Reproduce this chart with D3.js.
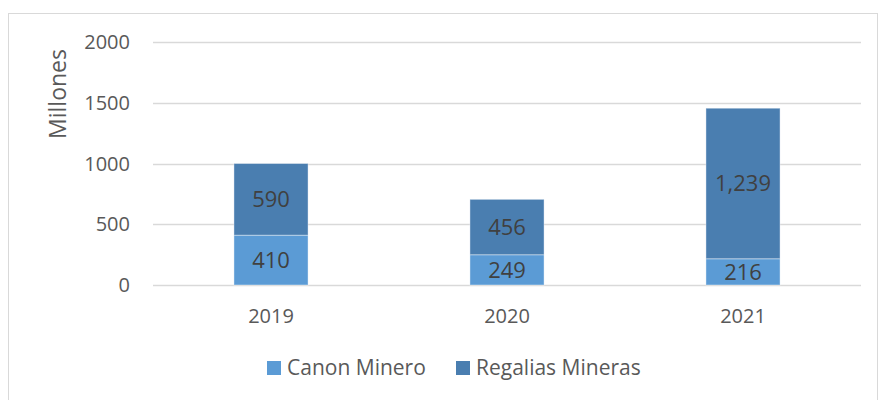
<!DOCTYPE html>
<html>
<head>
<meta charset="utf-8">
<script src="https://cdn.jsdelivr.net/npm/d3@7"></script>
<style>
  body { margin: 0; background: #fff; }
  text { font-family: "Open Sans", sans-serif; }
</style>
</head>
<body>
<div id="chart"></div>
<script>
// data (millones)
var years = ["2019", "2020", "2021"];
var canonMinero = [410, 249, 216];
var regaliasMineras = [590, 456, 1239];
var seriesNames = ["Canon Minero", "Regalias Mineras"];
var seriesColors = ["#5b9bd5", "#4a7eb0"];
var yTicks = [0, 500, 1000, 1500, 2000];

var width = 878, height = 400;
var margin = {top: 42, right: 17, bottom: 115, left: 153};

var svg = d3.select("#chart").append("svg")
  .attr("width", width)
  .attr("height", height);

// chart border
svg.append("rect")
  .attr("x", 8.5).attr("y", 13.5)
  .attr("width", width - 9).attr("height", height)
  .attr("fill", "none")
  .attr("stroke", "#d9d9d9");

var x = d3.scaleBand()
  .domain(years)
  .range([margin.left, width - margin.right])
  .paddingInner(0.686)
  .paddingOuter(0.343);

var y = d3.scaleLinear()
  .domain([0, 2000])
  .range([height - margin.bottom, margin.top]);

// gridlines
svg.append("g").selectAll("line")
  .data(yTicks)
  .enter().append("line")
  .attr("x1", margin.left).attr("x2", width - margin.right)
  .attr("y1", function(d) { return Math.round(y(d)) + 0.5; })
  .attr("y2", function(d) { return Math.round(y(d)) + 0.5; })
  .attr("stroke", "#d9d9d9")
  .attr("stroke-width", 1.5);

// y tick labels
svg.append("g").selectAll("text")
  .data(yTicks)
  .enter().append("text")
  .attr("x", 130)
  .attr("y", function(d) { return y(d); })
  .attr("dy", "0.35em")
  .attr("text-anchor", "end")
  .attr("fill", "#595959")
  .style("font-size", "20px")
  .text(function(d) { return d; });

// y axis title
svg.append("text")
  .attr("transform", "translate(66," + 94 + ") rotate(-90)")
  .attr("text-anchor", "middle")
  .attr("fill", "#595959")
  .style("font-size", "23px")
  .text("Millones");

// stacked bars
var rows = years.map(function(yr, i) {
  return {year: yr, "Canon Minero": canonMinero[i], "Regalias Mineras": regaliasMineras[i]};
});
var stack = d3.stack().keys(seriesNames)(rows);
var fmt = d3.format(",");

var layer = svg.append("g").selectAll("g")
  .data(stack)
  .enter().append("g")
  .attr("fill", function(d, i) { return seriesColors[i]; });

layer.selectAll("rect")
  .data(function(d) { return d; })
  .enter().append("rect")
  .attr("x", function(d) { return x(d.data.year); })
  .attr("width", x.bandwidth())
  .attr("y", function(d) { return y(d[1]); })
  .attr("height", function(d) { return y(d[0]) - y(d[1]); })
  .attr("stroke", "#ffffff")
  .attr("stroke-opacity", 0.4)
  .attr("stroke-width", 1);

// data labels
layer.selectAll("text")
  .data(function(d) { return d; })
  .enter().append("text")
  .attr("x", function(d) { return x(d.data.year) + x.bandwidth() / 2; })
  .attr("y", function(d) { return (y(d[0]) + y(d[1])) / 2; })
  .attr("dy", "0.35em")
  .attr("text-anchor", "middle")
  .attr("fill", "#404040")
  .style("font-size", "22px")
  .text(function(d) { return fmt(d[1] - d[0]); });

// x labels
svg.append("g").selectAll("text")
  .data(years)
  .enter().append("text")
  .attr("x", function(d) { return x(d) + x.bandwidth() / 2; })
  .attr("y", 316)
  .attr("dy", "0.35em")
  .attr("text-anchor", "middle")
  .attr("fill", "#595959")
  .style("font-size", "20px")
  .text(function(d) { return d; });

// legend
var legendX = [267, 456];
var legend = svg.append("g").selectAll("g")
  .data(seriesNames)
  .enter().append("g")
  .attr("transform", function(d, i) { return "translate(" + legendX[i] + ",361)"; });

legend.append("rect")
  .attr("width", 14).attr("height", 14)
  .attr("fill", function(d, i) { return seriesColors[i]; });

legend.append("text")
  .attr("x", 20)
  .attr("y", 7)
  .attr("dy", "0.35em")
  .attr("fill", "#595959")
  .style("font-size", "21px")
  .text(function(d) { return d; });
</script>
</body>
</html>
